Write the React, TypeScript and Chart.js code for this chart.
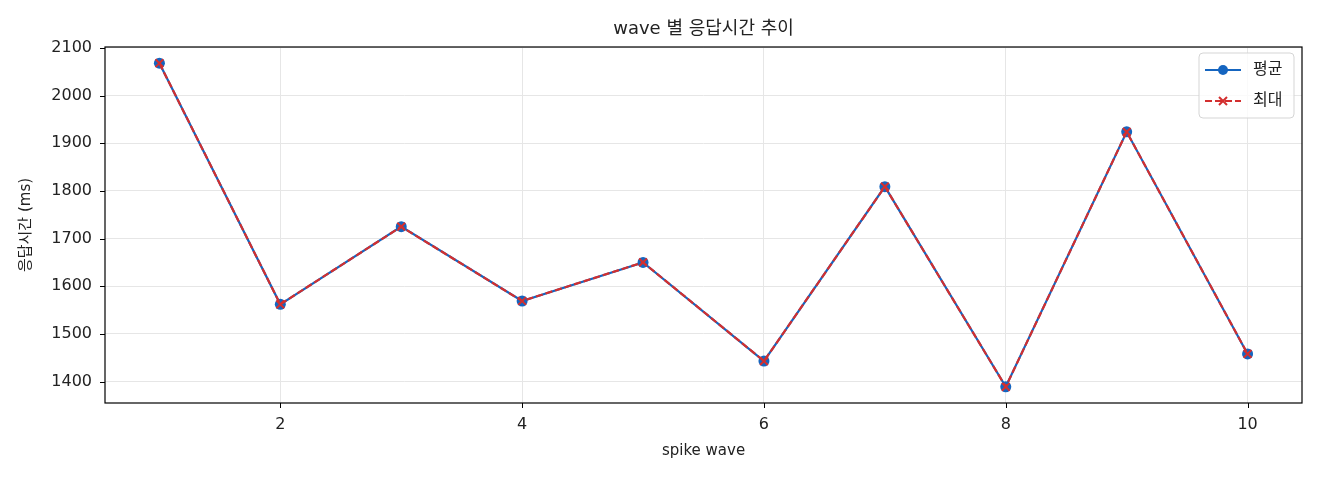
import { useEffect, useRef } from 'react';
import { Chart, registerables, type Plugin, type ChartConfiguration } from 'chart.js';

Chart.register(...registerables);

// wave number and response times (ms)
const WAVES = [1, 2, 3, 4, 5, 6, 7, 8, 9, 10];
const AVG_MS = [2068, 1562, 1725, 1569, 1650, 1443, 1809, 1389, 1924, 1458];
const MAX_MS = [2068, 1562, 1725, 1569, 1650, 1443, 1809, 1389, 1924, 1458];
const X_TICKS = [2, 4, 6, 8, 10];
const Y_TICKS = [1400, 1500, 1600, 1700, 1800, 1900, 2000, 2100];

const TITLE = 'wave 별 응답시간 추이';
const X_LABEL = 'spike wave';
const Y_LABEL = '응답시간 (ms)';
const LEGEND = ['평균', '최대'];

const BLUE = '#1565C0';
const RED = '#D32F2F';
const FONT = '"DejaVu Sans", "Noto Sans CJK KR", sans-serif';

/** matplotlib-like decorations: frame, tick marks, title, axis labels, legend */
const decorations: Plugin<'line'> = {
  id: 'decorations',
  afterDraw(chart) {
    const { ctx, chartArea: a } = chart;
    const xs = chart.scales.x;
    const ys = chart.scales.y;
    ctx.save();

    // full frame round the axes
    ctx.strokeStyle = '#000';
    ctx.lineWidth = 1.2;
    ctx.strokeRect(a.left, a.top, a.right - a.left, a.bottom - a.top);

    // outward tick marks
    ctx.lineWidth = 1;
    ctx.beginPath();
    X_TICKS.forEach((v) => {
      const px = Math.round(xs.getPixelForValue(v)) + 0.5;
      ctx.moveTo(px, a.bottom);
      ctx.lineTo(px, a.bottom + 5);
    });
    Y_TICKS.forEach((v) => {
      const py = Math.round(ys.getPixelForValue(v)) + 0.5;
      ctx.moveTo(a.left, py);
      ctx.lineTo(a.left - 5, py);
    });
    ctx.stroke();

    const cx = (a.left + a.right) / 2;
    ctx.fillStyle = '#222';
    ctx.textAlign = 'center';
    ctx.textBaseline = 'middle';
    ctx.font = `18px ${FONT}`;
    ctx.fillText(TITLE, cx, 29);

    ctx.font = `15px ${FONT}`;
    ctx.fillText(X_LABEL, cx, 451);

    ctx.save();
    ctx.translate(26, (a.top + a.bottom) / 2);
    ctx.rotate(-Math.PI / 2);
    ctx.fillText(Y_LABEL, 0, 0);
    ctx.restore();

    // legend box, top-right
    const bx = a.right - 103;
    const by = a.top + 6;
    ctx.beginPath();
    ctx.roundRect(bx, by, 95, 65, 4);
    ctx.fillStyle = 'rgba(255,255,255,0.8)';
    ctx.fill();
    ctx.strokeStyle = '#d5d5d5';
    ctx.lineWidth = 1;
    ctx.stroke();

    const rows = [by + 17, by + 48];
    const lx0 = bx + 6;
    const lx1 = bx + 42;
    const mx = (lx0 + lx1) / 2;

    // 평균: solid blue with circle
    ctx.strokeStyle = BLUE;
    ctx.lineWidth = 2;
    ctx.setLineDash([]);
    ctx.beginPath();
    ctx.moveTo(lx0, rows[0]);
    ctx.lineTo(lx1, rows[0]);
    ctx.stroke();
    ctx.fillStyle = BLUE;
    ctx.beginPath();
    ctx.arc(mx, rows[0], 5, 0, Math.PI * 2);
    ctx.fill();

    // 최대: dashed red with x
    ctx.strokeStyle = RED;
    ctx.setLineDash([7, 3]);
    ctx.beginPath();
    ctx.moveTo(lx0, rows[1]);
    ctx.lineTo(lx1, rows[1]);
    ctx.stroke();
    ctx.setLineDash([]);
    ctx.beginPath();
    ctx.moveTo(mx - 4, rows[1] - 4);
    ctx.lineTo(mx + 4, rows[1] + 4);
    ctx.moveTo(mx + 4, rows[1] - 4);
    ctx.lineTo(mx - 4, rows[1] + 4);
    ctx.stroke();

    ctx.fillStyle = '#222';
    ctx.textAlign = 'left';
    ctx.font = `16px ${FONT}`;
    LEGEND.forEach((t, i) => ctx.fillText(t, bx + 54, rows[i]));

    ctx.restore();
  },
};

export default function App() {
  const canvasRef = useRef<HTMLCanvasElement>(null);

  useEffect(() => {
    document.body.style.margin = '0';
    if (!canvasRef.current) return;

    const config: ChartConfiguration<'line'> = {
      type: 'line',
      data: {
        datasets: [
          {
            label: LEGEND[0],
            data: WAVES.map((w, i) => ({ x: w, y: AVG_MS[i] })),
            borderColor: BLUE,
            backgroundColor: BLUE,
            borderWidth: 2.2,
            pointStyle: 'circle',
            pointRadius: 5.5,
            pointBorderWidth: 0,
            order: 2,
          },
          {
            label: LEGEND[1],
            data: WAVES.map((w, i) => ({ x: w, y: MAX_MS[i] })),
            borderColor: RED,
            backgroundColor: RED,
            borderWidth: 2.2,
            borderDash: [7, 3],
            pointStyle: 'crossRot',
            pointRadius: 5.5,
            pointBorderWidth: 2,
            order: 1,
          },
        ],
      },
      options: {
        animation: false,
        responsive: true,
        maintainAspectRatio: false,
        layout: { padding: { top: 47, right: 18, left: 0, bottom: 0 } },
        plugins: {
          legend: { display: false },
          title: { display: false },
          tooltip: { enabled: false },
        },
        scales: {
          x: {
            type: 'linear',
            min: 0.55,
            max: 10.45,
            afterFit: (s) => { s.height = 77; },
            afterBuildTicks: (s) => { s.ticks = X_TICKS.map((v) => ({ value: v })); },
            border: { display: false },
            grid: { color: '#e6e6e6', lineWidth: 1, drawTicks: true, tickLength: 5, tickColor: 'rgba(0,0,0,0)' },
            ticks: {
              color: '#222',
              font: { family: FONT, size: 16 },
              padding: 7,
              maxRotation: 0,
              callback: (v) => String(v),
            },
          },
          y: {
            type: 'linear',
            min: 1355,
            max: 2102,
            afterFit: (s) => { s.width = 105; },
            afterBuildTicks: (s) => { s.ticks = Y_TICKS.map((v) => ({ value: v })); },
            border: { display: false },
            grid: { color: '#e6e6e6', lineWidth: 1, drawTicks: true, tickLength: 5, tickColor: 'rgba(0,0,0,0)' },
            ticks: {
              color: '#222',
              font: { family: FONT, size: 16 },
              padding: 8,
              callback: (v) => String(v),
            },
          },
        },
      },
      plugins: [decorations],
    };

    const chart = new Chart(canvasRef.current, config);
    return () => chart.destroy();
  }, []);

  return (
    <div style={{ position: 'relative', width: 1320, height: 480, background: '#fff' }}>
      <canvas ref={canvasRef} role="img" aria-label={TITLE} />
    </div>
  );
}
